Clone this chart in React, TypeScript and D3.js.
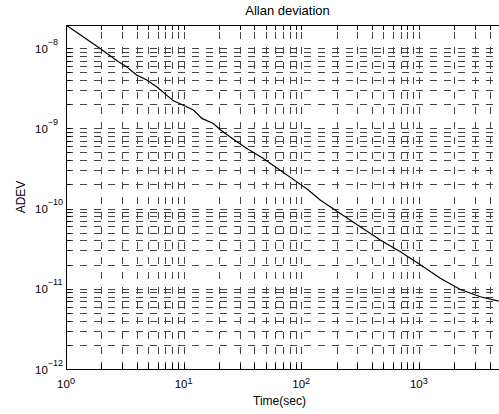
import * as d3 from "d3";

// averaging time (s) and Allan deviation
const tauSec = [1, 1.95, 2.79, 3.28, 4.0, 4.86, 5.9, 8.19, 10.6, 12.1, 14.3, 17.9, 20.5, 26.5, 34.5, 47.7, 66.2, 92, 115, 145, 215, 318, 470, 697, 1000, 1524, 2256, 3337, 4780];
const adev = [1.94e-8, 9.9e-9, 6.75e-9, 5.85e-9, 4.6e-9, 4.0e-9, 3.3e-9, 2.2e-9, 1.86e-9, 1.69e-9, 1.33e-9, 1.15e-9, 9.6e-10, 7.3e-10, 5.6e-10, 4.2e-10, 3.0e-10, 2.15e-10, 1.7e-10, 1.28e-10, 8.7e-11, 5.93e-11, 4.05e-11, 2.9e-11, 2.05e-11, 1.35e-11, 9.8e-12, 7.96e-12, 7.0e-12];

const xDecades = [0, 1, 2, 3];
const yDecades = [-12, -11, -10, -9, -8];

const width = 499;
const height = 414;
const margin = { top: 25, right: -2, bottom: 45, left: 66 };
const font = "'Liberation Sans', Arial, sans-serif";

export default function App() {
  const x0 = margin.left;
  const x1 = width - margin.right;
  const y0 = margin.top;
  const y1 = height - margin.bottom;

  const xScale = d3.scaleLog().domain([1, 5000]).range([x0, x1]);
  const yScale = d3.scaleLog().domain([1e-12, 1.94e-8]).range([y1, y0]);

  const points = tauSec.map((t, i) => [t, adev[i]] as [number, number]);
  const line = d3
    .line<[number, number]>()
    .x((d) => xScale(d[0]))
    .y((d) => yScale(d[1]))
    .curve(d3.curveLinear);

  const xGrid = xScale.ticks();
  const yGrid = yScale.ticks();
  const px = (v: number) => Math.round(v) + 0.5;
  const gridColor = "#444";

  return (
    <>
      <style>{`body{margin:0;background:#fff}`}</style>
      <svg width={width} height={height} style={{ display: "block" }}>
        <defs>
          <clipPath id="plot">
            <rect x={x0} y={y0} width={x1 - x0} height={y1 - y0} />
          </clipPath>
        </defs>
        <rect width={width} height={height} fill="#fff" />

        <g shapeRendering="crispEdges" stroke={gridColor} strokeWidth={1}>
          {yGrid.map((v, i) => (
            <line
              key={"h" + i}
              x1={x0}
              x2={x1}
              y1={px(yScale(v))}
              y2={px(yScale(v))}
              strokeDasharray="7 7"
            />
          ))}
          {xGrid.map((v, i) => (
            <line
              key={"v" + i}
              x1={px(xScale(v))}
              x2={px(xScale(v))}
              y1={y1}
              y2={y0}
              strokeDasharray="7 8"
            />
          ))}
        </g>

        <g shapeRendering="crispEdges" stroke="#000" strokeWidth={1}>
          {xGrid.map((v, i) => (
            <g key={"xt" + i}>
              <line x1={px(xScale(v))} x2={px(xScale(v))} y1={y1} y2={y1 - 5} />
              <line x1={px(xScale(v))} x2={px(xScale(v))} y1={y0} y2={y0 + 5} />
            </g>
          ))}
          {yGrid.map((v, i) => (
            <line key={"yt" + i} x1={x0} x2={x0 + 5} y1={px(yScale(v))} y2={px(yScale(v))} />
          ))}
          <line x1={px(x0)} x2={px(x0)} y1={y0} y2={y1 + 1} />
          <line x1={x0} x2={x1} y1={px(y1)} y2={px(y1)} />
          <line x1={x0} x2={x1} y1={px(y0)} y2={px(y0)} />
        </g>

        <path
          d={line(points) ?? ""}
          fill="none"
          stroke="#000"
          strokeWidth={1.2}
          clipPath="url(#plot)"
        />

        <g fontFamily={font} fill="#000">
          {xDecades.map((e) => (
            <text key={"xl" + e} x={xScale(10 ** e)} y={y1 + 19} fontSize={11.5} textAnchor="middle">
              <tspan>10</tspan>
              <tspan dy={-4} fontSize={9}>{e}</tspan>
            </text>
          ))}
          {yDecades.map((e) => (
            <text key={"yl" + e} x={35} y={yScale(10 ** e) + 4.5} fontSize={11.5}>
              <tspan>10</tspan>
              <tspan dy={-8} fontSize={9}>{"\u2212" + Math.abs(e)}</tspan>
            </text>
          ))}
          <text x={(x0 + x1) / 2 + 4} y={15} fontSize={13} textAnchor="middle">
            Allan deviation
          </text>
          <text x={(x0 + x1) / 2 - 4} y={405} fontSize={12} textAnchor="middle">
            Time(sec)
          </text>
          <text
            transform={`translate(25,${(y0 + y1) / 2}) rotate(-90)`}
            fontSize={12}
            textAnchor="middle"
          >
            ADEV
          </text>
        </g>
      </svg>
    </>
  );
}
